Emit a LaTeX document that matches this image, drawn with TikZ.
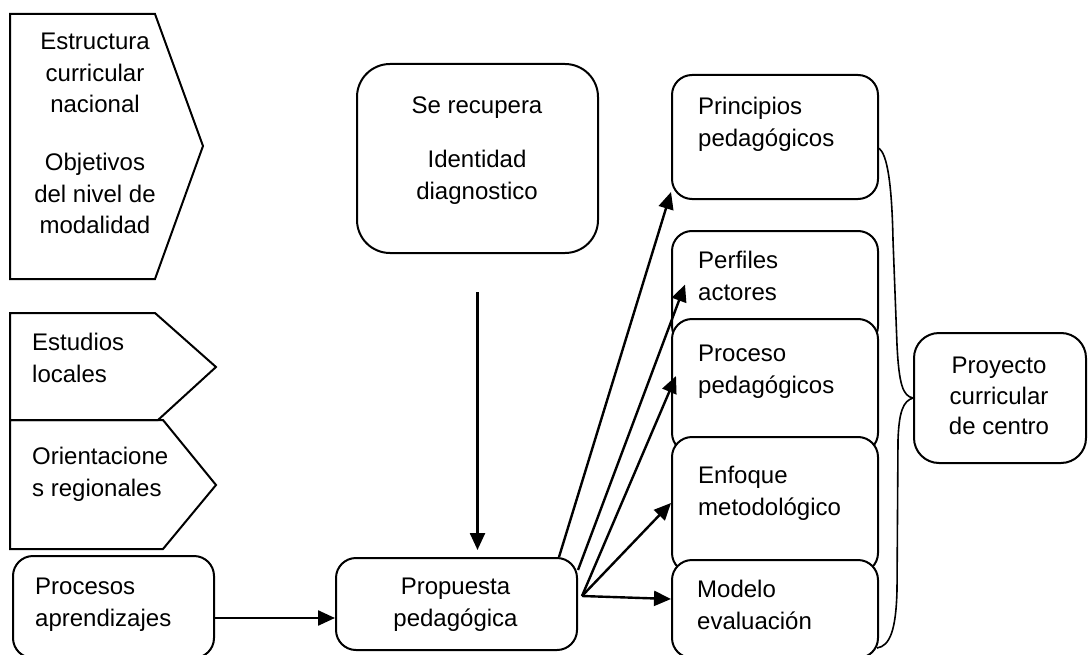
\documentclass[tikz,border=0pt]{standalone}
\usepackage{fontspec}
\setmainfont{Liberation Sans}
\usepackage{tikz}
\usetikzlibrary{arrows.meta,positioning}

\tikzset{
  box/.style={draw, fill=white, line width=2pt, rectangle, rounded corners=20pt,
              inner sep=0pt, anchor=north west},
  txt/.style={inner sep=0pt, align=left, font=\fontsize{24}{31.5}\selectfont},
  ctxt/.style={inner sep=0pt, align=center, anchor=north, font=\fontsize{24}{31.5}\selectfont},
  arr/.style={-{Triangle[length=17pt,width=15pt]}, line width=2.4pt},
  shp/.style={draw, line width=2pt, line join=miter}
}

\begin{document}
\begin{tikzpicture}[x=1pt,y=-1pt]
\useasboundingbox (0,0) rectangle (1091,655);

% left column
\draw[shp] (10,14) -- (155,14) -- (203,146) -- (155,279) -- (10,279) -- cycle;
\node[ctxt] (estructura) at (95,33) {Estructura\\curricular\\nacional\\[26.5pt]Objetivos\\del nivel de\\modalidad};

\draw[shp] (10,313) -- (155,313) -- (216,367) -- (158,420) -- (10,420) -- cycle;
\node[txt, anchor=north west] (estudios) at (32,333) {Estudios\\locales};

\draw[shp] (10,420) -- (163,420) -- (216,485) -- (163,549) -- (10,549) -- cycle;
\node[txt, anchor=north west] (orient) at (32,447) {Orientacione\\s regionales};

\node[box, minimum width=201pt, minimum height=102pt] (procesos) at (12,555) {};
\node[txt, anchor=north west] (procesosT) at (35,578) {Procesos\\aprendizajes};

% middle
\node[box, rounded corners=33pt, minimum width=241pt, minimum height=189pt] (recupera) at (356,63) {};
\node[ctxt] (recuperaT) at (477,97) {Se recupera\\[22.5pt]Identidad\\diagnostico};

\node[box, minimum width=241pt, minimum height=92pt] (propuesta) at (335,557) {};
\node[ctxt] (propuestaT) at (455.5,578) {Propuesta\\pedagógica};

% right column
\node[box, minimum width=206pt, minimum height=124pt] (prin) at (671,74) {};
\node[txt, anchor=north west] (prinT) at (698,97) {Principios\\pedagógicos};

\node[box, minimum width=206pt, minimum height=115pt] (perf) at (671,230) {};
\node[txt, anchor=north west] (perfT) at (698,251) {Perfiles\\actores};

\node[box, minimum width=206pt, minimum height=134pt] (proc) at (671,318) {};
\node[txt, anchor=north west] (procT) at (698,345) {Proceso\\pedagógicos};

\node[box, minimum width=206pt, minimum height=136pt] (enf) at (671,436) {};
\node[txt, anchor=north west] (enfT) at (698,466) {Enfoque\\metodológico};

\node[box, minimum width=206pt, minimum height=98pt] (mod) at (671,559) {};
\node[txt, anchor=north west] (modT) at (697,580) {Modelo\\evaluación};

\node[box, rounded corners=25pt, minimum width=172pt, minimum height=130pt] (proy) at (913,332) {};
\node[ctxt, font=\fontsize{24}{30.5}\selectfont] (proyT) at (999,357) {Proyecto\\curricular\\de centro};

% brace
\draw[line width=1.6pt] (878,148) .. controls (888,152) and (892,190) .. (893,240)
  -- (897,345) .. controls (899,385) and (903,396) .. (proy.west)
  .. controls (903,401) and (899,412) .. (898,440)
  -- (897,590) .. controls (896,630) and (890,646) .. (877,648);

% arrows
\draw[arr, shorten <=38pt, shorten >=7pt] (recupera.south) -- (recupera.south |- propuesta.north);
\draw[arr] ([yshift=-11pt]procesos.east) -- ([yshift=-11pt]procesos.east -| propuesta.west);

\coordinate (fan) at ([xshift=4pt,yshift=8pt]propuesta.east);
\draw[arr] ([xshift=-19pt]propuesta.north east) -- ([yshift=8pt]prin.south west);
\draw[arr] ([yshift=-13pt]propuesta.north east) -- ([xshift=14pt,yshift=4pt]perf.west);
\draw[arr] (fan) -- ([xshift=5pt,yshift=10pt]proc.west);
\draw[arr] (fan) -- ([yshift=2pt]enf.west);
\draw[arr] (fan) -- ([yshift=10pt]mod.west);
\end{tikzpicture}
\end{document}
